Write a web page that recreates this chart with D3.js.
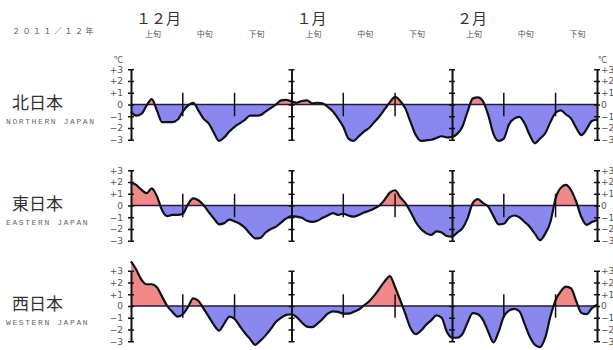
<!DOCTYPE html>
<html>
<head>
<meta charset="utf-8">
<script src="https://cdn.jsdelivr.net/npm/d3@7"></script>
<style>
  body { margin: 0; background: #fff; }
  svg { display: block; }
</style>
</head>
<body>
<div id="chart"></div>
<script>
// daily temperature anomaly (°C), 2011-12-01 .. 2012-02-29
const north = [
  -0.6, -0.95, -0.8, -0.1, 0.45, -0.5, -1.5, -1.5, -1.5, -1.3,
  -0.6, -0.1, 0.15, -0.5, -1.2, -1.6, -2.4, -3.1, -2.8, -2.3,
  -1.9, -1.6, -1.3, -0.95, -0.95, -0.9, -0.6, -0.3, 0.0, 0.35,
  0.4, 0.25, 0.15, 0.3, 0.35, 0.1, 0.15, 0.1, -0.2, -0.6,
  -1.2, -1.9, -2.9, -3.1, -2.7, -2.3, -2.0, -1.5, -1.0, -0.4,
  0.2, 0.65, 0.3, -0.35, -1.5, -2.6, -3.1, -3.05, -3.0, -2.85,
  -2.7, -2.8, -2.75, -2.5, -1.9, -0.6, 0.5, 0.6, 0.25, -0.9,
  -2.5, -3.1, -2.9, -1.7, -1.2, -1.05, -1.6, -2.6, -3.3, -2.9,
  -2.45, -1.5, -0.7, -0.5, -0.85, -1.2, -2.0, -2.6, -2.1, -1.4,
  -1.3
];
const east = [
  1.97, 1.75, 1.35, 1.05, 1.45, 0.8, -0.4, -0.9, -0.8, -0.8,
  -0.7, 0.1, 0.6, 0.45, 0.05, -0.55, -1.1, -1.6, -1.5, -1.2,
  -1.35, -1.55, -1.9, -2.4, -2.8, -2.75, -2.3, -2.0, -1.8, -1.45,
  -1.1, -0.9, -0.95, -1.05, -1.3, -1.4, -1.3, -1.05, -0.85, -0.65,
  -0.8, -0.7, -0.85, -0.95, -0.8, -0.6, -0.45, -0.25, 0.0, 0.5,
  1.1, 1.3, 0.7, 0.2, -0.55, -1.4, -2.0, -2.35, -2.5, -2.2,
  -2.3, -2.6, -2.65, -2.3, -1.95, -1.1, 0.2, 0.55, 0.2, -0.1,
  -0.9, -1.6, -1.55, -1.05, -0.85, -1.0, -1.4, -1.8, -2.4, -2.95,
  -2.4, -1.4, 0.6, 1.5, 1.75, 1.3, 0.3, -1.0, -1.65, -1.4,
  -1.25
];
const west = [
  3.8, 3.1, 2.25, 1.85, 1.85, 1.6, 0.8, 0.0, -0.5, -0.9,
  -0.7, -0.1, 0.65, 0.45, -0.2, -0.9, -1.6, -2.1, -1.5, -0.9,
  -1.1, -1.7, -2.3, -2.8, -3.3, -2.95, -2.5, -1.95, -1.35, -1.0,
  -0.75, -0.7, -0.95, -1.4, -1.75, -1.8, -1.5, -1.1, -0.65, -0.45,
  -0.5, -0.65, -0.65, -0.5, -0.3, 0.05, 0.4, 0.9, 1.5, 2.1,
  2.55, 1.6, 0.5, -0.7, -1.9, -2.4, -2.1, -1.6, -1.2, -0.8,
  -1.0, -2.2, -2.7, -2.7, -2.4, -1.4, -0.6, -0.7, -1.2, -2.2,
  -3.1, -2.2, -0.9, -0.4, -0.25, -0.45, -1.5, -2.6, -3.3, -3.5,
  -2.7, -0.9, 0.5, 1.25, 1.65, 1.5, 0.4, -0.6, -0.7, -0.2,
  0.1
];

const regionNames = ['北日本', '東日本', '西日本'];
const regionNamesEn = ['NORTHERN JAPAN', 'EASTERN JAPAN', 'WESTERN JAPAN'];
const monthLabels = ['１２月', '１月', '２月'];
const dekadLabels = ['上旬', '中旬', '下旬'];
const tickValues = [3, 2, 1, 0, -1, -2, -3];
const titleLabel = '２０１１／１２年';

const width = 613;
const height = 350;

const dates = d3.timeDay.range(new Date(2011, 11, 1), new Date(2012, 2, 1));
const monthStarts = [new Date(2011, 11, 1), new Date(2012, 0, 1), new Date(2012, 1, 1)];

const svg = d3.select('#chart').append('svg')
  .attr('width', width)
  .attr('height', height)
  .style('font-family', '"Noto Sans CJK JP", sans-serif');

const x = d3.scaleTime()
  .domain([dates[0], dates[dates.length - 1]])
  .range([131, 597]);

// header
svg.append('text')
  .attr('x', 12)
  .attr('y', 34)
  .attr('font-size', 8)
  .attr('letter-spacing', 2.5)
  .attr('fill', '#555')
  .text(titleLabel);

monthStarts.forEach((m, i) => {
  svg.append('text')
    .attr('x', x(m) + 5)
    .attr('y', 24)
    .attr('font-size', 15)
    .attr('fill', '#333')
    .text(monthLabels[i]);

  dekadLabels.forEach((lab, j) => {
    const d = new Date(m.getFullYear(), m.getMonth(), 5 + j * 10, 6);
    svg.append('text')
      .attr('x', x(d))
      .attr('y', 37)
      .attr('text-anchor', 'middle')
      .attr('font-size', 8)
      .attr('fill', '#555')
      .text(lab);
  });
});

// °C markers
svg.append('text')
  .attr('x', 123).attr('y', 63)
  .attr('text-anchor', 'end')
  .attr('font-size', 9).attr('fill', '#555')
  .text('°C');
svg.append('text')
  .attr('x', 598).attr('y', 63)
  .attr('font-size', 9).attr('fill', '#555')
  .text('°C');

const zeros = [104.5, 205.5, 306];
const unit = 11.75;
const series = [north, east, west];

const fmt = v => v > 0 ? '+' + v : (v < 0 ? '−' + Math.abs(v) : '0');

series.forEach((values, k) => {
  const z = zeros[k];
  const y = d3.scaleLinear()
    .domain([-3, 3])
    .range([z + 3 * unit, z - 3 * unit]);

  const g = svg.append('g').classed('panel', true);

  // clips for positive / negative fill
  const defs = g.append('defs');
  defs.append('clipPath').attr('id', 'pos' + k)
    .append('rect')
    .attr('x', 0).attr('y', 0)
    .attr('width', width).attr('height', y(0));
  defs.append('clipPath').attr('id', 'neg' + k)
    .append('rect')
    .attr('x', 0).attr('y', y(0))
    .attr('width', width).attr('height', height - y(0));

  const area = d3.area()
    .x((d, i) => x(dates[i]))
    .y0(y(0))
    .y1(d => y(d))
    .curve(d3.curveMonotoneX);

  g.append('path')
    .datum(values)
    .attr('d', area)
    .attr('fill', '#f08888')
    .attr('clip-path', `url(#pos${k})`);

  g.append('path')
    .datum(values)
    .attr('d', area)
    .attr('fill', '#8888ee')
    .attr('clip-path', `url(#neg${k})`);

  // zero line
  g.append('line')
    .attr('x1', x.range()[0]).attr('x2', x.range()[1])
    .attr('y1', y(0)).attr('y2', y(0))
    .attr('stroke', '#1c1c4c')
    .attr('stroke-width', 1.5);

  // dekad ticks
  monthStarts.forEach(m => {
    [11, 21].forEach(day => {
      const xd = x(new Date(m.getFullYear(), m.getMonth(), day));
      g.append('line')
        .attr('x1', xd).attr('x2', xd)
        .attr('y1', y(1)).attr('y2', y(-1))
        .attr('stroke', '#111')
        .attr('stroke-width', 1.5);
    });
  });

  // data line
  const line = d3.line()
    .x((d, i) => x(dates[i]))
    .y(d => y(d))
    .curve(d3.curveMonotoneX);

  g.append('path')
    .datum(values)
    .attr('d', line)
    .attr('fill', 'none')
    .attr('stroke', '#111')
    .attr('stroke-width', 2.2)
    .attr('stroke-linejoin', 'round');

  // vertical axes at month starts and at the end
  const axisXs = monthStarts.map(m => x(m)).concat([x.range()[1]]);
  axisXs.forEach((ax, i) => {
    const left = d3.axisLeft(y).tickValues(tickValues).tickSize(3).tickSizeOuter(0)
      .tickPadding(5)
      .tickFormat(i === 0 ? fmt : '');
    const right = d3.axisRight(y).tickValues(tickValues).tickSize(3).tickSizeOuter(0)
      .tickPadding(1)
      .tickFormat(i === axisXs.length - 1 ? fmt : '');

    [left, right].forEach(a => {
      const ag = g.append('g')
        .attr('transform', `translate(${ax},0)`)
        .call(a);
      ag.select('.domain').attr('stroke', '#111').attr('stroke-width', 1.6);
      ag.selectAll('.tick line').attr('stroke', '#111').attr('stroke-width', 1.5);
      ag.selectAll('.tick text')
        .attr('font-size', 9)
        .attr('fill', '#555')
        .style('font-family', '"DejaVu Sans", sans-serif');
    });
  });

  // region labels
  svg.append('text')
    .attr('x', 12)
    .attr('y', z + 4)
    .attr('font-size', 17)
    .attr('fill', '#333')
    .text(regionNames[k]);

  svg.append('text')
    .attr('x', 6)
    .attr('y', z + 19)
    .attr('font-size', 8)
    .attr('letter-spacing', 1.6)
    .attr('fill', '#666')
    .style('font-family', '"Liberation Mono", monospace')
    .text(regionNamesEn[k]);
});
</script>
</body>
</html>
